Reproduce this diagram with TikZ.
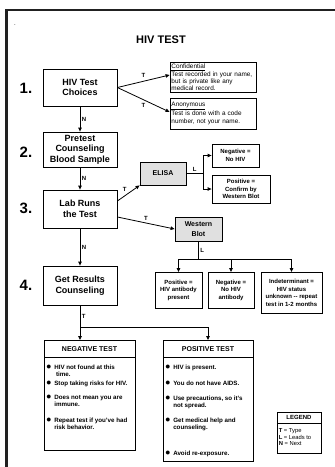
\documentclass[tikz,border=0pt]{standalone}
\usepackage{fontspec}
\setmainfont{Liberation Sans}
\usetikzlibrary{arrows.meta,calc}
\definecolor{LineClr}{rgb}{0,0,0}
\definecolor{ShadeClr}{rgb}{0.88,0.88,0.88}
\definecolor{FrameClr}{rgb}{0.13,0.13,0.13}
\newcommand{\bul}{{\fontsize{10}{10}\selectfont$\bullet$}}

\begin{document}
\begin{tikzpicture}[x=1pt,y=-1pt,
  stepbox/.style={draw=LineClr,line width=0.8pt,minimum width=74pt,inner sep=1pt,align=center,font=\bfseries\fontsize{9}{10.5}\selectfont},
  notebox/.style={draw=LineClr,line width=0.8pt,text width=83pt,inner sep=1.5pt,align=left,font=\fontsize{6.4}{7.3}\selectfont},
  testbox/.style={draw=LineClr,line width=0.8pt,fill=ShadeClr,inner sep=1pt,align=center,font=\bfseries\fontsize{7}{10}\selectfont},
  resbox/.style={draw=LineClr,line width=0.8pt,inner sep=1pt,align=center,font=\bfseries\fontsize{6}{7.8}\selectfont},
  listbox/.style={draw=LineClr,line width=0.8pt,anchor=north},
  headbox/.style={draw=LineClr,line width=0.8pt,inner sep=1pt,anchor=north,font=\bfseries\fontsize{7}{8}\selectfont},
  listtext/.style={inner sep=0pt,anchor=north west,align=left,font=\bfseries\fontsize{6.2}{7}\selectfont},
  stepnum/.style={font=\bfseries\fontsize{15}{15}\selectfont},
  lbl/.style={font=\bfseries\fontsize{6}{7}\selectfont,inner sep=1.5pt},
  arr/.style={-{Triangle[length=4pt,width=3.5pt]},line width=0.8pt,draw=LineClr},
  con/.style={line width=0.8pt,draw=LineClr}]
\useasboundingbox (0,0) rectangle (335,467);

\draw[line width=2.5pt,FrameClr] (6.5,480) -- (6.5,10) -- (345,10);
\node[font=\fontsize{6}{6}\selectfont,inner sep=0pt] (dot) at (15,25) {.};
\node[font=\bfseries\fontsize{11}{13}\selectfont] (title) at (161,40) {HIV TEST};

\node[stepnum] (num1) at (26,88) {1.};
\node[stepnum] (num2) at (26,152) {2.};
\node[stepnum] (num3) at (26,208) {3.};
\node[stepnum] (num4) at (26,285) {4.};

\node[stepbox,minimum height=37pt] (choices) at (80,87.5) {HIV Test\\Choices};
\node[stepbox,minimum height=35pt] (pretest) at (80,149.5) {Pretest\\Counseling\\Blood Sample};
\node[stepbox,minimum height=38pt] (lab) at (80,209) {Lab Runs\\the Test};
\node[stepbox,minimum height=39pt] (results) at (80,285.5) {Get Results\\Counseling};

\node[notebox,minimum height=29pt] (conf) at (213,77.5) {\underline{Confidential}\\Test recorded in your name,\\but is private like any\\medical record.};
\node[notebox,minimum height=31pt] (anon) at (213,113.5) {\underline{Anonymous}\\Test is done with a code\\number, not your name.};

\node[testbox,minimum width=46pt,minimum height=23pt] (elisa) at (163,173.5) {ELISA};
\node[resbox,minimum width=47pt,minimum height=23pt] (eneg) at (235.5,155.5) {Negative =\\No HIV};
\node[resbox,minimum width=58pt,minimum height=28pt] (epos) at (241,189) {Positive =\\Confirm by\\Western Blot};

\node[testbox,minimum width=47pt,minimum height=24pt] (western) at (198.5,229) {Western\\Blot};
\node[resbox,anchor=north,minimum width=47pt,minimum height=36pt] (wpos) at (178.5,272) {Positive =\\HIV antibody\\present};
\node[resbox,anchor=north,minimum width=46pt,minimum height=36pt] (wneg) at (231,272) {Negative =\\No HIV\\antibody};
\node[resbox,anchor=north,minimum width=61pt,minimum height=41pt] (wind) at (291.5,272) {Indeterminant =\\HIV status\\unknown -{}- repeat\\test in 1-2 months};

\node[listbox,minimum width=91pt,minimum height=110pt] (neg) at (89.5,340) {};
\node[headbox,minimum width=91pt,minimum height=17pt] (neghead) at (neg.north) {NEGATIVE TEST};
\node[listtext] (negtext) at ([xshift=2.5pt,yshift=-7pt]neghead.south west) {\begin{tabular}{@{}l@{\hspace{3pt}}l@{}}
\bul & HIV not found at this\\ & \ time.\\[2pt]
\bul & Stop taking risks for HIV.\\[7pt]
\bul & Does not mean you are\\ & immune.\\[9pt]
\bul & Repeat test if you've had\\ & risk behavior.
\end{tabular}};

\node[listbox,minimum width=90pt,minimum height=121pt] (pos) at (208,340) {};
\node[headbox,minimum width=90pt,minimum height=17pt] (poshead) at (pos.north) {POSITIVE TEST};
\node[listtext] (postext) at ([xshift=2.5pt,yshift=-7pt]poshead.south west) {\begin{tabular}{@{}l@{\hspace{3pt}}l@{}}
\bul & HIV is present.\\[8.3pt]
\bul & You do not have AIDS.\\[8pt]
\bul & Use precautions, so it's\\ & not spread.\\[8.7pt]
\bul & Get medical help and\\ & counseling.\\[18.3pt]
\bul & Avoid re-exposure.
\end{tabular}};

\node[listbox,minimum width=44pt,minimum height=41pt] (legend) at (299,412) {};
\node[headbox,minimum width=44pt,minimum height=11pt,font=\bfseries\fontsize{6}{7}\selectfont] (leghead) at (legend.north) {LEGEND};
\node[inner sep=0pt,anchor=north west,align=left,font=\fontsize{5.8}{6.5}\selectfont] (legtext) at ([xshift=2pt,yshift=-4.8pt]leghead.south west) {\textbf{T} = Type\\\textbf{L} = Leads to\\\textbf{N} = Next};

\draw[arr] (choices.east) -- ([yshift=2.5pt]conf.west) node[lbl,midway,above=2pt] {T};
\draw[arr] (choices.east) -- ([yshift=1.5pt]anon.west) node[lbl,midway,below=2pt] {T};
\draw[arr] (choices) -- (pretest) node[lbl,midway,right] {N};
\draw[arr] (pretest) -- (lab) node[lbl,midway,right] {N};
\draw[arr] (lab) -- (results) node[lbl,midway,right] {N};

\draw[arr] ([yshift=8pt]lab.east) -- (elisa.south west) node[lbl,midway,above left=0pt] {T};
\draw[arr] ([yshift=-8pt]lab.east) -- (western.west) node[lbl,midway,above=1pt] {T};

\coordinate (ejoin) at (203,173.5);
\draw[con] (elisa.east) -- (ejoin) node[lbl,midway,above] {L};
\draw[arr] (ejoin) |- (eneg.west);
\draw[arr] (ejoin) |- (epos.west);

\coordinate (wjoin) at (198.5,259);
\draw[con] (western.south) -- (wjoin) node[lbl,midway,right] {L};
\draw[arr] (wjoin) -| (wpos.north);
\draw[arr] (wjoin) -| (wneg.north);
\draw[arr] (wjoin) -| (wind.north);

\coordinate (rjoin) at (80,327);
\draw[con] (results.south) -- (rjoin) node[lbl,midway,right] {T};
\draw[arr] (rjoin) -- (rjoin |- neg.north);
\draw[arr] (rjoin) -| (pos.north);

\end{tikzpicture}
\end{document}
